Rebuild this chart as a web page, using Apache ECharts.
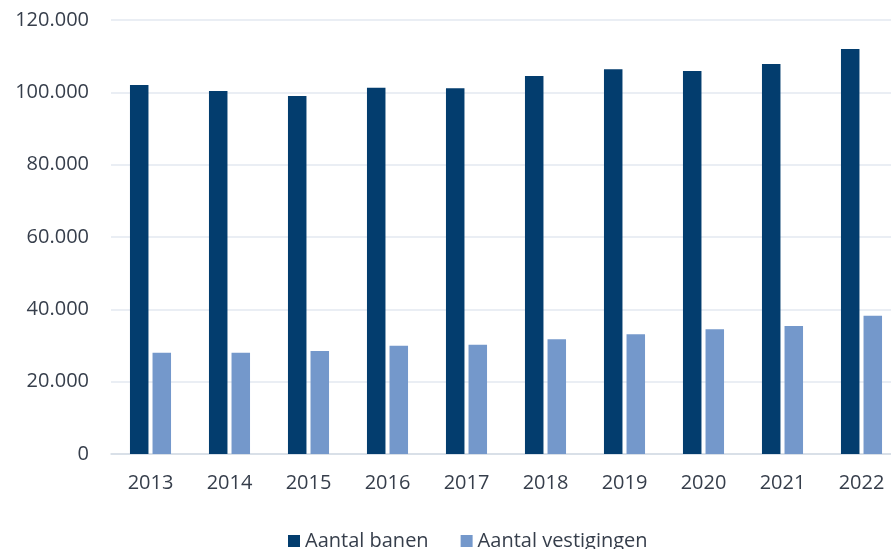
<!DOCTYPE html>
<html>
<head>
<meta charset="utf-8">
<script src="https://cdn.jsdelivr.net/npm/echarts@6/dist/echarts.min.js"></script>
<style>
  html, body { margin: 0; padding: 0; background: #fff; }
  #chart { width: 891px; height: 549px; }
</style>
</head>
<body>
<div id="chart"></div>
<script>
var years = ['2013', '2014', '2015', '2016', '2017', '2018', '2019', '2020', '2021', '2022'];
var banen = [102000, 100400, 99000, 101300, 101100, 104500, 106400, 105900, 107800, 112000];
var vestigingen = [28000, 28000, 28500, 29900, 30200, 31700, 33100, 34500, 35400, 38200];

var textColor = '#363e4b';

var chart = echarts.init(document.getElementById('chart'), null, { renderer: 'canvas' });

// dutch thousand separator
function fmt(v) {
  return String(v).replace(/\B(?=(\d{3})+(?!\d))/g, '.');
}

var options = {
  animation: false,
  textStyle: { fontFamily: 'Open Sans' },
  grid: {
    left: 111,
    top: 20,
    width: 790,
    height: 434,
    outerBoundsMode: 'none'
  },
  legend: {
    left: 283,
    top: 526,
    itemWidth: 12,
    itemHeight: 12,
    itemGap: 32,
    icon: 'rect',
    textStyle: { color: textColor, fontSize: 20, fontFamily: 'Open Sans' },
    data: ['Aantal banen', 'Aantal vestigingen']
  },
  xAxis: {
    type: 'category',
    data: years,
    axisTick: { show: false },
    axisLine: { lineStyle: { color: '#d3dbe4', width: 1.5 } },
    axisLabel: { color: textColor, fontSize: 20, margin: 19 }
  },
  yAxis: {
    type: 'value',
    min: 0,
    max: 120000,
    interval: 20000,
    axisLabel: {
      color: textColor,
      fontSize: 20,
      margin: 22,
      formatter: fmt
    },
    splitLine: { lineStyle: { color: '#e3e9f0', width: 1.5 } }
  },
  series: [
    {
      name: 'Aantal banen',
      type: 'bar',
      data: banen,
      barWidth: 18.5,
      barGap: '22%',
      itemStyle: { color: '#033d6e' }
    },
    {
      name: 'Aantal vestigingen',
      type: 'bar',
      data: vestigingen,
      barWidth: 18.5,
      itemStyle: { color: '#7498cb' }
    }
  ]
};

chart.setOption(options);
</script>
</body>
</html>
